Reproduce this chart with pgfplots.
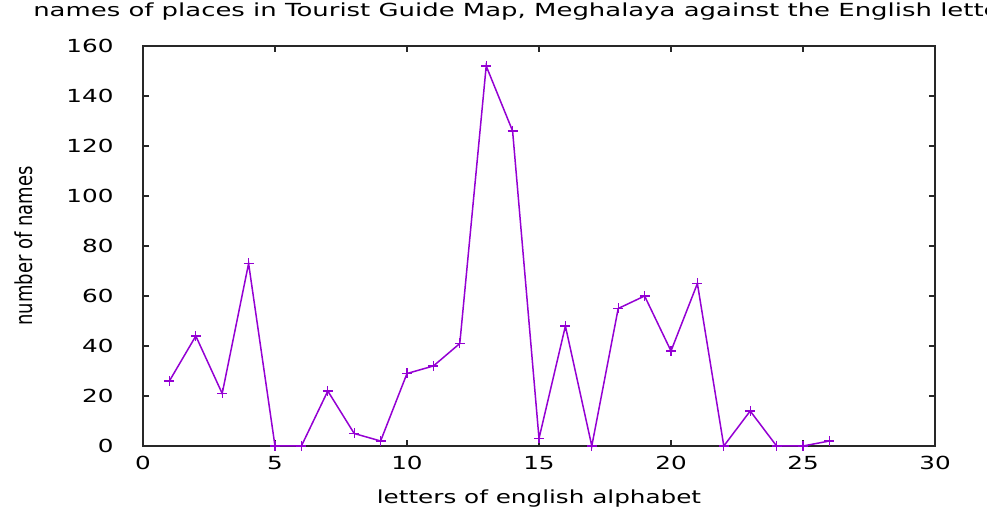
\documentclass[border=0pt]{standalone}
\usepackage{fontspec}
\setmainfont{DejaVu Sans}
\usepackage{pgfplots}
\pgfplotsset{compat=1.18}
\definecolor{gpviolet}{RGB}{148,0,211}
\definecolor{axgray}{RGB}{40,40,40}
\begin{document}
\begin{tikzpicture}
\begin{axis}[
  scale only axis, width=792pt, height=400pt,
  xmin=0, xmax=30, ymin=0, ymax=160,
  xtick={0,5,...,30}, ytick={0,20,...,160},
  tick align=inside, major tick length=6pt,
  xtick pos=both, ytick pos=both,
  xticklabel pos=bottom, yticklabel pos=left,
  axis line style={line width=1.1pt, axgray},
  every tick/.style={axgray, line width=1.1pt},
  /pgf/number format/assume math mode=true,
  font=\fontsize{18}{21}\selectfont,
  xticklabel style={xscale=1.37, yshift=-7pt},
  yticklabel style={xscale=1.37, xshift=-18pt},
  xlabel={letters of english alphabet},
  ylabel={number of names},
  xlabel style={at={(axis description cs:0.5,0)}, anchor=base, yshift=-57pt, xscale=1.37},
  ylabel style={at={(axis description cs:-0.1503,0.5)}, anchor=center, yscale=1.3},
  clip=false,
]
\addplot[gpviolet, line width=1.5pt, mark=+, mark size=5pt, mark options={gpviolet, line width=1.2pt}] coordinates {
(1,26) (2,44) (3,21) (4,73) (5,0) (6,0) (7,22) (8,5) (9,2) (10,29)
(11,32) (12,41) (13,152) (14,126) (15,3) (16,48) (17,0) (18,55) (19,60) (20,38)
(21,65) (22,0) (23,14) (24,0) (25,0) (26,2)
};
\end{axis}
\node[anchor=base west, xscale=1.44, font=\fontsize{18}{21}\selectfont, inner sep=0pt] at (-110pt,429pt) {names of places in Tourist Guide Map, Meghalaya against the English letters};
\pgfresetboundingbox
\useasboundingbox (-143pt,-67pt) rectangle (844pt,446pt);
\end{tikzpicture}
\end{document}
